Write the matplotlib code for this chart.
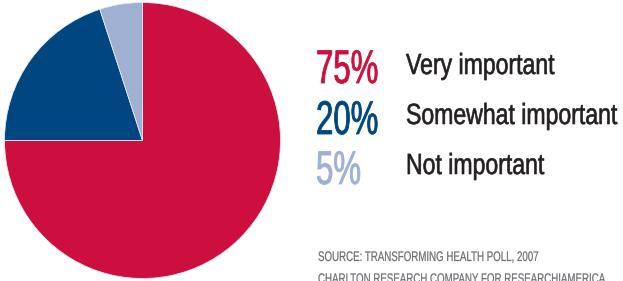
import matplotlib
matplotlib.use("Agg")
import matplotlib.pyplot as plt
from matplotlib.patheffects import AbstractPathEffect
from matplotlib.transforms import Affine2D

categories = ["Very important", "Somewhat important", "Not important"]
values = [75, 20, 5]
pct_labels = ["75%", "20%", "5%"]
colors = ["#CC0F3F", "#004680", "#9FB0D2"]
source_lines = ["SOURCE: TRANSFORMING HEALTH POLL, 2007",
                "CHARLTON RESEARCH COMPANY FOR RESEARCHIAMERICA"]

plt.rcParams['font.family'] = ["Liberation Sans", "DejaVu Sans"]


class Condense(AbstractPathEffect):
    """Horizontally condense text glyphs around the text origin, optionally emboldened."""
    def __init__(self, sx, lw=0.0):
        super().__init__()
        self.sx = sx
        self.lw = lw

    def draw_path(self, renderer, gc, tpath, affine, rgbFace=None):
        gc0 = renderer.new_gc()
        gc0.copy_properties(gc)
        if self.lw > 0 and rgbFace is not None:
            gc0.set_linewidth(self.lw)
            gc0.set_foreground(rgbFace)
            gc0.set_joinstyle("round")
        renderer.draw_path(gc0, tpath, Affine2D().scale(self.sx, 1) + affine, rgbFace)
        gc0.restore()


W, H = 623, 281
fig = plt.figure(figsize=(W / 100, H / 100), dpi=100)
fig.patch.set_facecolor("white")

cx, cy, r = 142.5, 140.5, 138
ax = fig.add_axes([(cx - r) / W, (H - cy - r) / H, 2 * r / W, 2 * r / H])
ax.pie(values, colors=colors, startangle=90, counterclock=False, radius=1,
       wedgeprops=dict(linewidth=0.6, edgecolor="#e8e8ee"))
ax.set_xlim(-1, 1)
ax.set_ylim(-1, 1)
ax.set_aspect("equal")
ax.axis("off")

pct_base = [83, 134, 184]
lab_base = [74, 124, 174]
for p, lab, c, pb, lb in zip(pct_labels, categories, colors, pct_base, lab_base):
    fig.text(316 / W, 1 - pb / H, p, color=c, fontsize=34, va="baseline", ha="left",
             path_effects=[Condense(0.66, 0.6)])
    fig.text(406 / W, 1 - lb / H, lab, color="#231F20", fontsize=21, va="baseline", ha="left",
             path_effects=[Condense(0.79, 0.45)])

for line, b in zip(source_lines, [261, 283]):
    fig.text(318 / W, 1 - b / H, line, color="#6D6E71", fontsize=10, va="baseline", ha="left",
             path_effects=[Condense(0.70, 0.15)])

fig.savefig("out.png", dpi=100, facecolor="white")
